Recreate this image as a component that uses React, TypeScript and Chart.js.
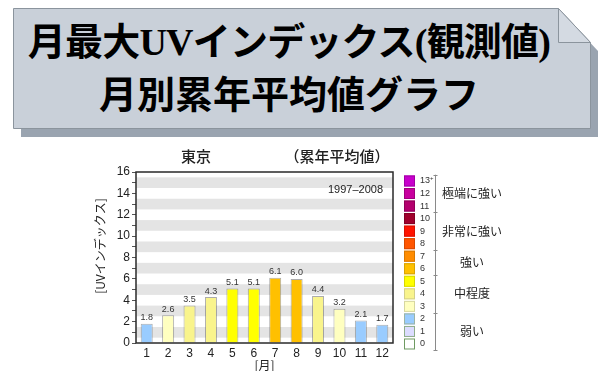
import React, { useEffect, useRef } from "react";
import { Chart, registerables } from "chart.js";

Chart.register(...registerables);

// ---- data ----
const months = ["1", "2", "3", "4", "5", "6", "7", "8", "9", "10", "11", "12"];
const uvValues = [1.8, 2.6, 3.5, 4.3, 5.1, 5.1, 6.1, 6.0, 4.4, 3.2, 2.1, 1.7];
const yMin = 0;
const yMax = 16;
const bandCenters = [1, 3, 5, 7, 9, 11, 13, 15];

// UV levels 0..13 (13 = "13+")
const levelColors = [
  "#ffffff", "#dcdcff", "#99ccff", "#ffffc0", "#f9f48c", "#ffff00", "#ffc000",
  "#ff8c00", "#ff5500", "#ff1400", "#a0002d", "#b4006e", "#c8009e", "#c800cc",
];
const levelBorders = [
  "#6f9a62", "#8fae8a", "#9bb4a6", "#d6d6a0", "#d4d08a", "#d8d800", "#d8a400",
  "#d87800", "#d84800", "#d81000", "#800024", "#900058", "#a0007e", "#a000a4",
];
const legendLevels = ["13+", "12", "11", "10", "9", "8", "7", "6", "5", "4", "3", "2", "1", "0"];
const legendGroups = [
  { name: "極端に強い", first: 0, last: 2 },
  { name: "非常に強い", first: 3, last: 5 },
  { name: "強い", first: 6, last: 7 },
  { name: "中程度", first: 8, last: 10 },
  { name: "弱い", first: 11, last: 13 },
];

const titleLine1 = "月最大UVインデックス(観測値)";
const titleLine2 = "月別累年平均値グラフ";
const chartTitleLeft = "東京";
const chartTitleRight = "（累年平均値）";
const periodText = "1997–2008";
const yTitle = "[UVインデックス]";
const xTitle = "[月]";

const NUM_FONT = "'Liberation Sans', Arial, 'Noto Sans CJK JP', sans-serif";
const JP_FONT = "'Noto Sans CJK JP', 'Liberation Sans', sans-serif";

const colorFor = (v: number) => levelColors[Math.min(13, Math.max(0, Math.round(v)))];

const decorPlugin = {
  id: "decor",
  beforeDatasetsDraw(chart: any) {
    const { ctx, chartArea } = chart;
    const y = chart.scales.y;
    ctx.save();
    ctx.fillStyle = "#e4e4e4";
    for (const c of bandCenters) {
      const top = y.getPixelForValue(c + 0.5);
      const bot = y.getPixelForValue(c - 0.5);
      ctx.fillRect(chartArea.left, top, chartArea.right - chartArea.left, bot - top);
    }
    ctx.restore();
  },
  afterDatasetsDraw(chart: any) {
    const { ctx, chartArea } = chart;
    const meta = chart.getDatasetMeta(0);
    ctx.save();
    // value labels
    ctx.font = `9px ${NUM_FONT}`;
    ctx.fillStyle = "#333";
    ctx.textAlign = "center";
    ctx.textBaseline = "bottom";
    meta.data.forEach((bar: any, i: number) => {
      ctx.fillText(uvValues[i].toFixed(1), bar.x, bar.y - 1.5);
    });
    // frame
    ctx.strokeStyle = "#2a2a2a";
    ctx.lineWidth = 1.5;
    ctx.strokeRect(chartArea.left, chartArea.top, chartArea.right - chartArea.left, chartArea.bottom - chartArea.top);

    // chart titles
    ctx.fillStyle = "#222";
    ctx.font = `500 15px ${JP_FONT}`;
    ctx.textBaseline = "middle";
    ctx.textAlign = "center";
    ctx.fillText(chartTitleLeft, 196, 16);
    ctx.fillText(chartTitleRight, 337, 16);

    // period
    ctx.font = `11px ${NUM_FONT}`;
    ctx.textAlign = "right";
    ctx.fillText(periodText, chartArea.right - 10, 50);

    // y axis title
    ctx.save();
    ctx.translate(100, 106);
    ctx.rotate(-Math.PI / 2);
    ctx.font = `12px ${JP_FONT}`;
    ctx.textAlign = "center";
    ctx.textBaseline = "middle";
    ctx.fillText(yTitle, 0, 0);
    ctx.restore();

    // legend
    const lTop = 34.7;
    const pitch = 12.54;
    const sx = 404;
    const sw = 11;
    legendLevels.forEach((lab, i) => {
      const lvl = 13 - i;
      const cy = lTop + pitch * (i + 0.5);
      ctx.fillStyle = levelColors[lvl];
      ctx.fillRect(sx, cy - 5.5, sw, 11);
      ctx.strokeStyle = levelBorders[lvl];
      ctx.lineWidth = 1;
      ctx.strokeRect(sx + 0.5, cy - 5, sw - 1, 10);
      ctx.fillStyle = "#333";
      ctx.font = `9px ${NUM_FONT}`;
      ctx.textAlign = "left";
      ctx.textBaseline = "middle";
      if (lab.endsWith("+")) {
        const base = lab.slice(0, -1);
        ctx.fillText(base, 420, cy);
        const w = ctx.measureText(base).width;
        ctx.font = `6px ${NUM_FONT}`;
        ctx.fillText("+", 420 + w, cy - 3);
      } else {
        ctx.fillText(lab, 420, cy);
      }
    });
    // bracket
    const bx = 435.5;
    const bTop = lTop;
    const bBot = lTop + pitch * legendLevels.length;
    ctx.strokeStyle = "#8a8a8a";
    ctx.lineWidth = 1;
    ctx.beginPath();
    ctx.moveTo(bx, bTop);
    ctx.lineTo(bx, bBot);
    ctx.stroke();
    const bounds = [0, ...legendGroups.map((g) => g.last + 1)];
    ctx.beginPath();
    bounds.forEach((b) => {
      const yy = Math.round(lTop + pitch * b) + 0.5;
      ctx.moveTo(bx - 2, yy);
      ctx.lineTo(bx + 2, yy);
    });
    ctx.stroke();
    ctx.fillStyle = "#222";
    ctx.font = `12px ${JP_FONT}`;
    ctx.textAlign = "center";
    ctx.textBaseline = "middle";
    legendGroups.forEach((g) => {
      const cy = lTop + pitch * ((g.first + g.last + 1) / 2);
      ctx.fillText(g.name, 472, cy);
    });
    ctx.restore();
  },
};

export default function App() {
  const ref = useRef<HTMLCanvasElement | null>(null);

  useEffect(() => {
    if (!ref.current) return;
    const chart = new Chart(ref.current, {
      type: "bar",
      data: {
        labels: months,
        datasets: [
          {
            data: uvValues,
            backgroundColor: uvValues.map(colorFor),
            borderColor: "rgba(70,70,70,0.45)",
            borderWidth: 1,
            barPercentage: 0.56,
            categoryPercentage: 1,
          },
        ],
      },
      options: {
        animation: false,
        responsive: false,
        devicePixelRatio: 1,
        layout: { padding: { left: 88, right: 207, top: 32, bottom: 0 } },
        plugins: { legend: { display: false }, tooltip: { enabled: false }, title: { display: false } },
        scales: {
          x: {
            grid: { display: false, drawTicks: false },
            border: { display: false },
            ticks: { color: "#222", font: { size: 12, family: NUM_FONT }, padding: 3, maxRotation: 0 },
            title: {
              display: true,
              text: xTitle,
              color: "#222",
              font: { size: 12, family: JP_FONT, lineHeight: 1 },
              padding: { top: 0, bottom: 0 },
            },
            afterFit: (s: any) => {
              s.height = 28;
            },
          },
          y: {
            min: yMin,
            max: yMax,
            grid: { display: true, drawOnChartArea: false, drawTicks: true, tickLength: 4, color: "#555" },
            border: { display: false },
            ticks: {
              stepSize: 1,
              autoSkip: false,
              color: "#222",
              padding: 2,
              font: { size: 12, family: NUM_FONT },
              callback: (v: any) => (Number(v) % 2 === 0 ? String(v) : ""),
            },
            afterFit: (s: any) => {
              s.width = 48;
            },
          },
        },
      },
      plugins: [decorPlugin],
    });
    return () => chart.destroy();
  }, []);

  const textStyle: React.CSSProperties = {
    position: "absolute",
    left: 0,
    width: 578,
    textAlign: "center",
    fontFamily: "'Liberation Serif', 'Noto Sans CJK JP', serif",
    fontWeight: 700,
    fontSize: 38,
    lineHeight: "38px",
    color: "#000",
    whiteSpace: "nowrap",
  };

  return (
    <div style={{ position: "absolute", left: 0, top: 0, width: 600, height: 371, background: "#fff", overflow: "hidden" }}>
      <svg width={600} height={140} style={{ position: "absolute", left: 0, top: 0 }}>
        <polygon points="21,17 566,17 598,51 598,137 21,137" fill="#9aa4b0" />
        <polygon points="13.5,8.5 558.5,8.5 590.5,42.5 590.5,128.5 13.5,128.5" fill="#c9d0d9" stroke="#8b949d" strokeWidth={1} />
        <polygon points="558.5,8.5 558.5,42.5 590.5,42.5" fill="#d4dae2" stroke="#8b949d" strokeWidth={1} />
      </svg>
      <div style={{ ...textStyle, top: 23, letterSpacing: "-0.8px" }}>{titleLine1}</div>
      <div style={{ ...textStyle, top: 76 }}>{titleLine2}</div>
      <canvas ref={ref} width={600} height={231} style={{ position: "absolute", left: 0, top: 140, width: 600, height: 231 }} />
    </div>
  );
}
